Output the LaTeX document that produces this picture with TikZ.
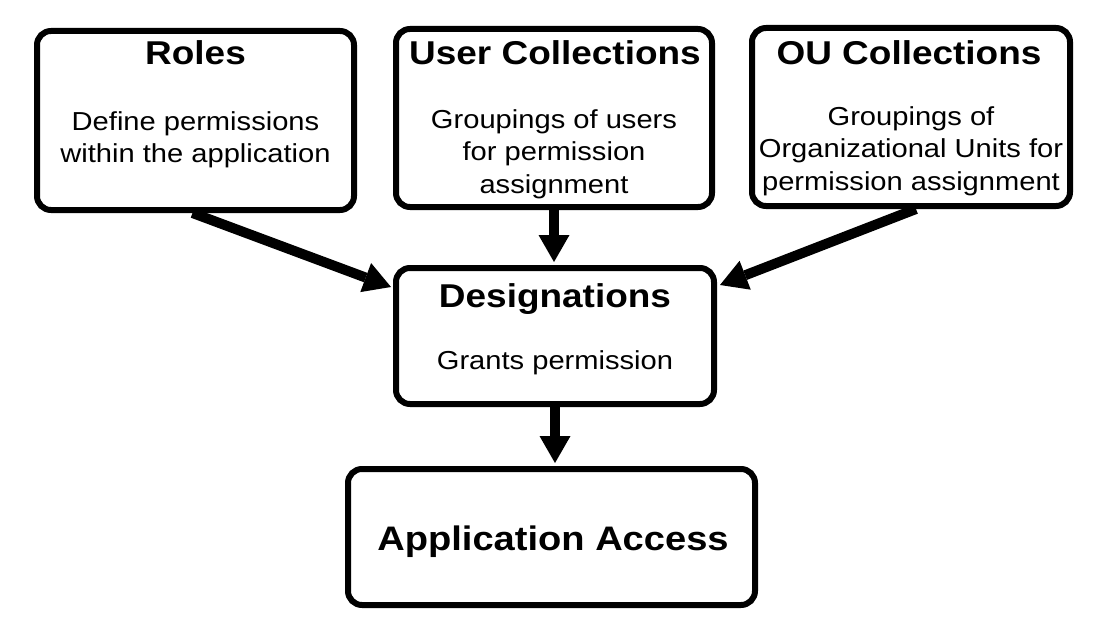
\documentclass[tikz,border=0pt]{standalone}
\usepackage{fontspec}
\setmainfont{Liberation Sans}[FakeStretch=1.12]
\usetikzlibrary{arrows.meta}
\begin{document}
\begin{tikzpicture}[x=1pt,y=-1pt,
  box/.style={draw=black, line width=6pt, rounded corners=14pt, fill=white, inner sep=0pt},
  ttl/.style={anchor=base, inner sep=0pt, font=\fontsize{33}{40}\selectfont\bfseries},
  sub/.style={anchor=base, inner sep=0pt, align=center, font=\fontsize{26}{32.5}\selectfont},
  arr/.style={line width=10pt, -{Triangle[length=27pt,width=31pt,line width=0pt]}}]
\useasboundingbox (0,0) rectangle (1111,618);
% boxes
\node[box, minimum width=317pt, minimum height=179pt] (roles) at (195.5,120.5) {};
\node[box, minimum width=316pt, minimum height=178pt] (user) at (554,118) {};
\node[box, minimum width=318pt, minimum height=178pt] (ou) at (911,117) {};
\node[box, minimum width=318pt, minimum height=136pt] (des) at (555,336) {};
\node[box, minimum width=407pt, minimum height=136pt] (app) at (551.5,537) {};
% texts
\node[ttl] (rolesT) at (195.5,65) {Roles};
\node[sub] (rolesS) at (195.5,162.5) {Define permissions\\within the application};
\node[ttl] (userT) at (555,65) {User Collections};
\node[sub] (userS) at (554,193) {Groupings of users\\for permission\\assignment};
\node[ttl] (ouT) at (909,64) {OU Collections};
\node[sub] (ouS) at (911,190) {Groupings of\\Organizational Units for\\permission assignment};
\node[ttl] (desT) at (555,307) {Designations};
\node[sub] (desS) at (555,369) {Grants permission};
\node[ttl, font=\fontsize{34}{40}\selectfont\bfseries] (appT) at (553,550) {Application Access};
% arrows
\draw[arr] ([xshift=-3pt]roles.south) -- ([shift={(-2pt,-22pt)}]des.north west);
\draw[arr] (user.south) -- ([yshift=3pt]user.south |- des.north);
\draw[arr] ([xshift=5pt]ou.south) -- ([shift={(3pt,-20pt)}]des.north east);
\draw[arr] (des.south) -- ([yshift=3pt]des.south |- app.north);
\end{tikzpicture}
\end{document}
